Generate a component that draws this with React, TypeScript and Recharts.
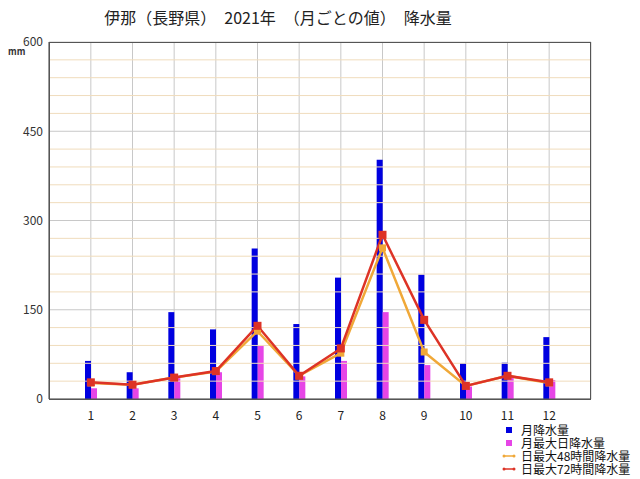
import React from 'react';
import {
  ComposedChart, Bar, Line, XAxis, YAxis, CartesianGrid, ReferenceLine,
} from 'recharts';

const months = ['1', '2', '3', '4', '5', '6', '7', '8', '9', '10', '11', '12'];
const monthlyTotal = [64, 45, 146, 117, 253, 126, 204, 402, 209, 60, 61, 104];
const dailyMax = [18, 18, 35, 45, 89, 38, 64, 146, 57, 21, 37, 32];
const max48h = [27, 24, 36, 46, 114, 39, 77, 254, 79, 22, 39, 27];
const max72h = [28, 24, 36, 47, 123, 39, 85, 276, 133, 22, 39, 28];
const yTicks = [0, 150, 300, 450, 600];
const minorTicks = [30, 60, 90, 120, 180, 210, 240, 270, 330, 360, 390, 420, 480, 510, 540, 570];

const TITLE = '伊那（長野県）　2021年　（月ごとの値）　降水量';

const COLORS = {
  total: '#0000e0',
  daily: '#e645e6',
  h48: '#f0a838',
  h72: '#dd3326',
};

const legendItems = [
  { name: '月降水量', color: COLORS.total, kind: 'box' },
  { name: '月最大日降水量', color: COLORS.daily, kind: 'box' },
  { name: '日最大48時間降水量', color: COLORS.h48, kind: 'line' },
  { name: '日最大72時間降水量', color: COLORS.h72, kind: 'line' },
];

const data = months.map((m, i) => ({
  month: m,
  total: monthlyTotal[i],
  daily: dailyMax[i],
  h48: max48h[i],
  h72: max72h[i],
}));

const FONT = '"Noto Sans CJK JP", "Liberation Sans", sans-serif';

const squareDot = (size: number, color: string) => (props: any) => {
  const { cx, cy, index } = props;
  if (cx == null || cy == null) return null;
  return <rect key={index} x={cx - size / 2} y={cy - size / 2} width={size} height={size} fill={color} />;
};

export default function App() {
  return (
    <div style={{ position: 'absolute', left: 0, top: 0, width: 640, height: 479, background: '#fff', fontFamily: FONT }}>
      <div style={{ position: 'absolute', left: 0, top: 5, width: 556, textAlign: 'center', fontSize: 16, color: '#222' }}>
        {TITLE}
      </div>
      <div style={{ position: 'absolute', left: 8, top: 45, fontSize: 9, fontWeight: 'bold', color: '#333' }}>mm</div>
      <ComposedChart
        width={640}
        height={479}
        data={data}
        margin={{ top: 42, right: 49, left: 0, bottom: 50 }}
        barGap={0}
        barSize={6}
      >
        <CartesianGrid stroke="#c8c8c8" horizontalValues={yTicks} />
        {minorTicks.map(v => (
          <ReferenceLine key={v} y={v} stroke="#f0dcbc" strokeWidth={1} />
        ))}
        <XAxis
          dataKey="month"
          padding={{ left: 21, right: 21 }}
          axisLine={{ stroke: '#555' }}
          tickLine={false}
          tick={{ fill: '#222', fontSize: 12, fontFamily: FONT }}
          height={30}
          dy={4}
        />
        <YAxis
          domain={[0, 600]}
          ticks={yTicks}
          width={49}
          axisLine={{ stroke: '#555' }}
          tickLine={false}
          tick={{ fill: '#333', fontSize: 12, fontFamily: FONT }}
          dx={2}
        />
        <Bar dataKey="total" name="月降水量" fill={COLORS.total} isAnimationActive={false} />
        <Bar dataKey="daily" name="月最大日降水量" fill={COLORS.daily} isAnimationActive={false} />
        <Line
          dataKey="h48"
          name="日最大48時間降水量"
          stroke={COLORS.h48}
          strokeWidth={2.5}
          dot={squareDot(7, COLORS.h48)}
          activeDot={false}
          isAnimationActive={false}
        />
        <Line
          dataKey="h72"
          name="日最大72時間降水量"
          stroke={COLORS.h72}
          strokeWidth={2.5}
          dot={squareDot(8, COLORS.h72)}
          activeDot={false}
          isAnimationActive={false}
        />
      </ComposedChart>
      <div style={{ position: 'absolute', left: 49, top: 42, width: 542, height: 358, border: '1px solid #555', boxSizing: 'border-box', pointerEvents: 'none' }} />
      <div style={{ position: 'absolute', left: 502, top: 423, fontSize: 12, color: '#111' }}>
        {legendItems.map(it => (
          <div key={it.name} style={{ display: 'flex', alignItems: 'center', whiteSpace: 'nowrap', height: 13, lineHeight: '13px' }}>
            {it.kind === 'box' ? (
              <span style={{ width: 14, display: 'inline-flex', justifyContent: 'center' }}>
                <span style={{ width: 6, height: 6, background: it.color, display: 'inline-block' }} />
              </span>
            ) : (
              <svg width={14} height={6}>
                <line x1={1} y1={3} x2={13} y2={3} stroke={it.color} strokeWidth={1.5} />
                <circle cx={2} cy={3} r={1.5} fill={it.color} />
                <circle cx={12} cy={3} r={1.5} fill={it.color} />
              </svg>
            )}
            <span style={{ marginLeft: 5 }}>{it.name}</span>
          </div>
        ))}
      </div>
    </div>
  );
}
